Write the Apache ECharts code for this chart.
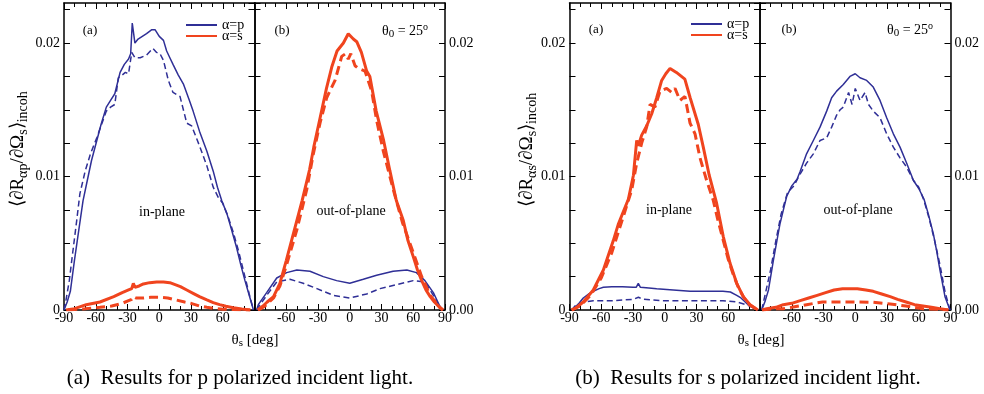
<!DOCTYPE html>
<html><head><meta charset="utf-8">
<script src="https://cdn.jsdelivr.net/npm/echarts@6/dist/echarts.min.js"></script>
<style>html,body{margin:0;padding:0;background:#fff}#c{width:984px;height:394px}</style>
</head><body><div id="c"></div>
<script>
// ---------- DATA (theta in deg, value of <dR/dOmega>_incoh) ----------
// Figure (a): p-polarized incident light
// in-plane panel
const pInc_in_pSolid_theta = [-90,-87,-84,-80,-76,-72,-68,-64,-59,-55,-50,-46,-42,-37,-33,-29,-27,-25.5,-23,-20,-16,-12,-7,-4,0,4,7,10,13,18,23,28,32,38,45,51,55,59,64,68,73,77,81,85,89];
const pInc_in_pSolid_val   = [0,0.0006,0.0014,0.0038,0.0060,0.0082,0.0097,0.0112,0.0127,0.0139,0.0152,0.0157,0.0162,0.0178,0.0184,0.0188,0.0192,0.0215,0.0200,0.0203,0.0205,0.0207,0.0210,0.0210,0.0205,0.0202,0.0194,0.0189,0.0184,0.0176,0.0169,0.0158,0.0149,0.0134,0.0119,0.0104,0.0092,0.0082,0.0072,0.0061,0.0047,0.0034,0.0022,0.0011,0];
const pInc_in_pDash_theta  = [-90,-88,-85,-82.7,-78,-75,-70,-65,-59,-55,-50,-46,-42,-38.7,-35,-32,-29,-26,-23,-18,-12,-6,-2.5,0.7,4,8.6,13,19.6,26,30.6,38.5,45,51,56,60,65,70,75,80,85,89];
const pInc_in_pDash_val    = [0,0.0008,0.0022,0.0037,0.0067,0.0087,0.0104,0.0117,0.0129,0.0138,0.0149,0.0152,0.0154,0.0174,0.0176,0.0178,0.0177,0.0193,0.0189,0.0189,0.0191,0.0196,0.0193,0.0192,0.0187,0.0172,0.0163,0.0160,0.0140,0.0138,0.0122,0.0108,0.0092,0.0084,0.0080,0.0070,0.0058,0.0044,0.0028,0.0012,0];
const pInc_in_sSolid_theta = [-88,-80,-69,-56,-43,-35,-29,-26,-24.5,-23,-19,-15,-9,-2.4,4,10,15,20,26,32,38,45,51,57,63,70,78,86];
const pInc_in_sSolid_val   = [0,0.0001,0.0004,0.0006,0.001,0.0013,0.0015,0.0016,0.0020,0.0017,0.0018,0.00195,0.00205,0.0021,0.0021,0.00205,0.0019,0.00175,0.0015,0.00125,0.001,0.00075,0.00055,0.0004,0.00028,0.00017,0.00008,0];
const pInc_in_sDash_theta  = [-86,-70,-56,-45,-35,-29,-26,-24.5,-22,-15,-8,0,8,16,24,30,38,45,52,60,70,80,86];
const pInc_in_sDash_val    = [0,0.0001,0.0002,0.0003,0.0005,0.0007,0.0008,0.001,0.0009,0.0009,0.00095,0.00095,0.0009,0.00075,0.0006,0.0005,0.0003,0.0002,0.00012,0.00006,0.00003,0.00001,0];
// out-of-plane panel
const pInc_out_pSolid_theta = [-88,-86.4,-78.5,-69,-59.6,-50,-37.6,-25,-12.4,0,12.8,25.4,41,54,63,71,79,85,88];
const pInc_out_pSolid_val   = [0,0.0004,0.0013,0.0024,0.0028,0.0030,0.0029,0.0025,0.0022,0.0020,0.0023,0.0026,0.0029,0.0030,0.0028,0.0022,0.0013,0.0003,0];
const pInc_out_pDash_theta  = [-88,-86.4,-78.5,-69,-56.5,-44,-31,-15.5,0,16,28.6,44.4,60,71,79,85,88];
const pInc_out_pDash_val    = [0,0.0002,0.0011,0.0021,0.0023,0.0020,0.0016,0.0011,0.0009,0.0012,0.0016,0.0019,0.0022,0.0021,0.0011,0.0002,0];
const pInc_out_sSolid_theta = [-87,-82,-78,-72,-66,-60,-55,-50,-45,-41,-38,-34,-28,-22,-17,-12,-6,-1.4,3.4,6.6,11,16,19,25,32,38,44,50.6,55,60,64,68,72,76,80,85,88];
const pInc_out_sSolid_val   = [0,0.0003,0.0006,0.001,0.002,0.0037,0.0052,0.0067,0.0082,0.0095,0.0105,0.0122,0.0144,0.0166,0.0182,0.0194,0.0200,0.0207,0.0203,0.0201,0.0193,0.0179,0.0175,0.0149,0.0127,0.0104,0.0082,0.0067,0.0052,0.004,0.003,0.0022,0.0015,0.001,0.0006,0.0002,0];
const pInc_out_sDash_theta  = [-86,-80,-72,-66,-60,-50,-40.7,-34.4,-28.1,-21.8,-13.9,-7.6,-4,-1.4,1,5,8.1,14.4,20.7,25.4,31.7,41.2,50,60,68,76,85,88];
const pInc_out_sDash_val    = [0,0.0003,0.0009,0.0018,0.0033,0.006,0.009,0.0117,0.014,0.0159,0.0172,0.019,0.0192,0.0188,0.0192,0.0183,0.0181,0.0179,0.0164,0.0142,0.0119,0.009,0.0065,0.0043,0.0025,0.0011,0.0002,0];

// Figure (b): s-polarized incident light
const sInc_in_pSolid_theta = [-88,-84.8,-81,-77,-72,-67.5,-62,-58,-50,-40,-30,-27,-25,-23,-15,-7.6,8,24,40,55,62,68,72,76,80,85,88];
const sInc_in_pSolid_val   = [0,0.0002,0.0005,0.0009,0.0012,0.0014,0.0016,0.0017,0.00175,0.00175,0.0017,0.0017,0.002,0.0017,0.00165,0.0016,0.0015,0.0014,0.0014,0.0014,0.00135,0.0011,0.0009,0.0006,0.0003,0.0001,0];
const sInc_in_pDash_theta  = [-88,-84.8,-77,-67.5,-48.6,-29.6,-24.9,-20,-1.3,24,55,68,77,85,88];
const sInc_in_pDash_val    = [0,0.0003,0.0006,0.0007,0.0007,0.0008,0.00095,0.0008,0.0007,0.0007,0.0007,0.0006,0.0004,0.0002,0];
const sInc_in_sSolid_theta = [-88,-84.8,-77,-67.5,-58,-48.6,-44,-39,-34.4,-29.6,-26.5,-25,-21.8,-17,-12.3,-7.6,-2.9,1,5,11,19,24,31.7,36.4,42,49,55.3,61.7,68,74.2,80.6,88];
const sInc_in_sSolid_val   = [0,0.0001,0.0006,0.0015,0.003,0.0052,0.0064,0.0074,0.0083,0.0101,0.0127,0.0123,0.0131,0.0138,0.0147,0.0159,0.0172,0.0177,0.0181,0.0178,0.0173,0.0159,0.0139,0.0122,0.0101,0.0080,0.0055,0.0035,0.002,0.001,0.0004,0];
const sInc_in_sDash_theta  = [-88,-80,-70,-60,-50,-40,-31.2,-26.5,-21.8,-17.1,-13.9,-9.2,-4.5,1.8,6.6,9.7,14.4,19.1,23.9,28.6,33.3,39.6,45.9,50,55,60,65,70,75,80,88];
const sInc_in_sDash_val    = [0,0.0003,0.0011,0.0024,0.0043,0.0068,0.009,0.011,0.0125,0.0137,0.0154,0.0152,0.0164,0.0166,0.0163,0.0166,0.0157,0.016,0.014,0.0132,0.0114,0.0097,0.0082,0.0068,0.0053,0.0038,0.0026,0.0016,0.0009,0.0004,0];
const sInc_out_pSolid_theta = [-88.4,-85,-82,-77.4,-74,-71,-67,-64.8,-60,-55,-52,-46,-39.6,-33.3,-27,-22.3,-17.6,-11.3,-5,0,4.5,10.8,17,23.4,29.7,36,42.3,48.6,55,60,65,69,73.8,77,80,84.8,89.5];
const sInc_out_pSolid_val   = [0,0.0007,0.0015,0.0037,0.0052,0.0065,0.0078,0.0085,0.0093,0.0098,0.0104,0.0117,0.0127,0.0137,0.0149,0.0159,0.0164,0.0169,0.0175,0.0177,0.0174,0.0172,0.0167,0.0157,0.0144,0.0132,0.0122,0.011,0.0097,0.0091,0.0083,0.0072,0.0057,0.0044,0.003,0.001,0];
const sInc_out_pDash_theta  = [-88.4,-85,-80,-75,-70,-64,-58,-52,-46,-39.6,-33.3,-27,-22.3,-17.6,-14.3,-11.3,-6.3,-3,0,4.5,9.3,12.5,17,23.4,29.7,36,42.3,48.6,55,60,65,70,75,80,85,89.5];
const sInc_out_pDash_val    = [0,0.0012,0.003,0.0052,0.0072,0.0088,0.0093,0.0102,0.011,0.0117,0.0127,0.0129,0.0137,0.0146,0.015,0.0152,0.0163,0.0154,0.0166,0.0157,0.0163,0.0154,0.0149,0.0144,0.0132,0.0122,0.0114,0.0107,0.0097,0.0092,0.0082,0.0068,0.0052,0.0034,0.0013,0];
const sInc_out_sSolid_theta = [-88,-83.7,-75,-68,-60,-52,-44,-36,-28,-20,-12,-4,2,10,17,25,33,40,48,56,64,72,80,88];
const sInc_out_sSolid_val   = [0,0.0001,0.0002,0.0004,0.0005,0.0007,0.0009,0.0011,0.0013,0.0015,0.0016,0.0016,0.0016,0.0015,0.0014,0.0012,0.001,0.0008,0.0006,0.0004,0.0003,0.0002,0.0001,0];
const sInc_out_sDash_theta  = [-88,-75,-68,-60,-46,-31,-14,1,17,33,48,64,80,88];
const sInc_out_sDash_val    = [0,0.0001,0.0001,0.0002,0.0004,0.0006,0.0006,0.0006,0.00058,0.00045,0.0003,0.0001,0.00005,0];

// tick labels
const xLabelsInPlane  = ['-90','-60','-30','0','30','60'];
const xLabelsOutPlane = ['-60','-30','0','30','60','90'];
const yLabelsLeft  = ['0','0.01','0.02'];
const yLabelsRight = ['0.00','0.01','0.02'];
const legendNames = ['α=p','α=s'];

// ---------- STYLE ----------
const FONT = "'Liberation Serif','Times New Roman',serif";
const BLUE = '#2f2f96';
const RED = '#f0441e';
const grids = [
  {left:64,    top:3, width:190.5, height:307},
  {left:254.5, top:3, width:190.5, height:307},
  {left:569.5, top:3, width:190.5, height:307},
  {left:760,   top:3, width:190.5, height:307}
];
const axisLine = {show:true, onZero:false, lineStyle:{color:'#000', width:1.5}};

function xAx(gi, pos, labels) {
  return {
    type:'value', gridIndex:gi, position:pos, min:-90, max:90, interval:30,
    axisLine, splitLine:{show:false},
    axisTick:{show:true, inside:true, length:6, lineStyle:{color:'#000', width:1}},
    minorTick:{show:true, splitNumber:3, length:4, lineStyle:{color:'#000', width:1}},
    axisLabel: labels ? {show:true, margin:1, fontFamily:FONT, fontSize:14, color:'#000',
      showMinLabel:true, showMaxLabel:true,
      formatter: v => labels.includes(String(v)) ? String(v) : ''} : {show:false}
  };
}
function yAx(gi, pos, labels) {
  return {
    type:'value', gridIndex:gi, position:pos, min:0, max:0.023, interval:0.0025,
    axisLine, splitLine:{show:false},
    axisTick:{show:true, inside:true, length:6, lineStyle:{color:'#000', width:1}},
    axisLabel: labels ? {show:true, margin:4, fontFamily:FONT, fontSize:14, color:'#000',
      showMinLabel:true, showMaxLabel:false,
      formatter: v => { const k = Math.round(v/0.01); return (Math.abs(v - k*0.01) < 1e-9 && k < labels.length) ? labels[k] : ''; }} : {show:false}
  };
}
const xAxis = [], yAxis = [];
grids.forEach((g, i) => {
  const inPlane = (i % 2 === 0);
  xAxis.push(xAx(i, 'bottom', inPlane ? xLabelsInPlane : xLabelsOutPlane));
  xAxis.push(xAx(i, 'top', null));
  yAxis.push(yAx(i, 'left', inPlane ? yLabelsLeft : null));
  yAxis.push(yAx(i, 'right', inPlane ? null : yLabelsRight));
});

function zip(t, v) { const n = Math.min(t.length, v.length); const d = []; for (let i = 0; i < n; i++) d.push([t[i], v[i]]); return d; }
function ser(name, gi, t, v, color, width, dash) {
  return {
    type:'line', name, xAxisIndex:2*gi, yAxisIndex:2*gi, data:zip(t, v),
    symbol:'none', showSymbol:false, smooth:false, animation:false,
    lineStyle:{color, width, type: dash ? dash : 'solid'}, itemStyle:{color}
  };
}
const BD = [6,3.5], RD = [9,5];
const series = [
  ser('α=p', 0, pInc_in_pSolid_theta, pInc_in_pSolid_val, BLUE, 1.5),
  ser('α=s', 0, pInc_in_sSolid_theta, pInc_in_sSolid_val, RED, 3),
  ser('p dashed', 0, pInc_in_pDash_theta, pInc_in_pDash_val, BLUE, 1.5, BD),
  ser('s dashed', 0, pInc_in_sDash_theta, pInc_in_sDash_val, RED, 3, RD),
  ser('α=p', 1, pInc_out_pSolid_theta, pInc_out_pSolid_val, BLUE, 1.5),
  ser('p dashed', 1, pInc_out_pDash_theta, pInc_out_pDash_val, BLUE, 1.5, BD),
  ser('α=s', 1, pInc_out_sSolid_theta, pInc_out_sSolid_val, RED, 3),
  ser('s dashed', 1, pInc_out_sDash_theta, pInc_out_sDash_val, RED, 3, RD),
  ser('α=p', 2, sInc_in_pSolid_theta, sInc_in_pSolid_val, BLUE, 1.5),
  ser('p dashed', 2, sInc_in_pDash_theta, sInc_in_pDash_val, BLUE, 1.5, BD),
  ser('α=s', 2, sInc_in_sSolid_theta, sInc_in_sSolid_val, RED, 3),
  ser('s dashed', 2, sInc_in_sDash_theta, sInc_in_sDash_val, RED, 3, RD),
  ser('α=p', 3, sInc_out_pSolid_theta, sInc_out_pSolid_val, BLUE, 1.5),
  ser('p dashed', 3, sInc_out_pDash_theta, sInc_out_pDash_val, BLUE, 1.5, BD),
  ser('α=s', 3, sInc_out_sSolid_theta, sInc_out_sSolid_val, RED, 3),
  ser('s dashed', 3, sInc_out_sDash_theta, sInc_out_sDash_val, RED, 3, RD)
];

function legend(left, top) {
  return {show:true, left, top, orient:'vertical', padding:0, itemGap:-3, itemWidth:31, itemHeight:11,
    selectedMode:false, data:legendNames,
    itemStyle:{opacity:0, borderWidth:0},
    textStyle:{fontFamily:FONT, fontSize:14, color:'#000', lineHeight:11}};
}

const SUB = {fontFamily:FONT, fontSize:11, lineHeight:8, verticalAlign:'bottom', fill:'#000'};
const SUP = {fontFamily:FONT, fontSize:10, lineHeight:8, verticalAlign:'top', fill:'#000'};
function txt(x, y, text, size, extra) {
  return {type:'text', x, y, silent:true, style:Object.assign({
    text, fill:'#000', fontFamily:FONT, fontSize:size,
    align:'center', verticalAlign:'middle', textAlign:'center', textVerticalAlign:'middle'
  }, extra || {})};
}
function yTitle(x, y, sub) {
  return {type:'text', x, y, rotation:Math.PI/2, silent:true, style:{
    text:'⟨∂R{s|' + sub + '}/∂Ω{s|s}⟩{s|incoh}', fill:'#000', fontFamily:FONT, fontSize:19, lineHeight:24,
    align:'left', verticalAlign:'middle', textAlign:'left', textVerticalAlign:'middle',
    rich:{s:{fontFamily:FONT, fontSize:14, lineHeight:10, verticalAlign:'bottom', fill:'#000'}}
  }};
}
const thetaRich = {s:SUB, o:SUP};
const graphic = [
  yTitle(18, 207, 'αp'),
  yTitle(527, 207, 'αs'),
  txt(90, 31, '(a)', 13), txt(282, 31, '(b)', 13),
  txt(596, 30, '(a)', 13), txt(789, 30, '(b)', 13),
  txt(405, 31, 'θ{s|0} = 25{o|o}', 14, {lineHeight:18, rich:thetaRich}),
  txt(910, 30, 'θ{s|0} = 25{o|o}', 14, {lineHeight:18, rich:thetaRich}),
  txt(162, 212, 'in-plane', 14), txt(351, 211, 'out-of-plane', 14),
  txt(669, 210, 'in-plane', 14), txt(858, 210, 'out-of-plane', 14),
  txt(255, 340, 'θ{s|s} [deg]', 15, {lineHeight:18, rich:thetaRich}),
  txt(761, 340, 'θ{s|s} [deg]', 15, {lineHeight:18, rich:thetaRich}),
  txt(240, 378, '(a)  Results for p polarized incident light.', 21),
  txt(748, 378, '(b)  Results for s polarized incident light.', 21)
];

const chart = echarts.init(document.getElementById('c'), null, {renderer:'canvas'});
chart.setOption({
  animation:false,
  backgroundColor:'#fff',
  grid:grids,
  xAxis, yAxis,
  legend:[legend(185, 18), legend(690, 17)],
  series,
  graphic
});
</script>
</body></html>
